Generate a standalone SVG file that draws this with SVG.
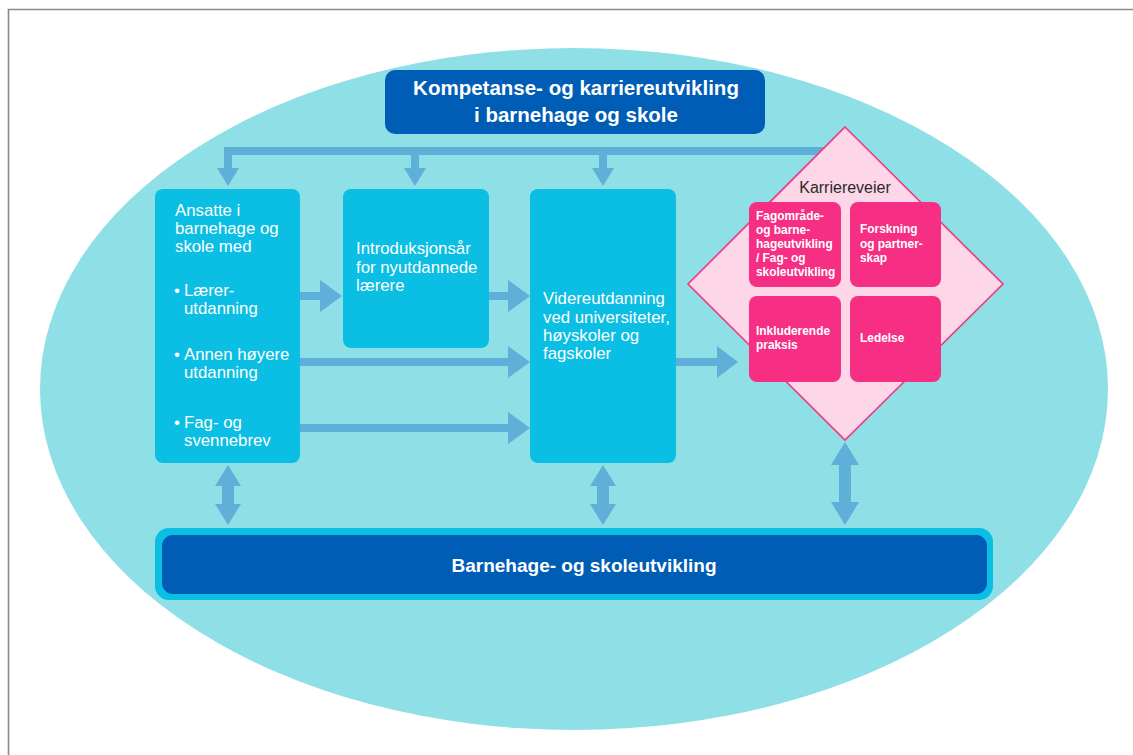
<svg xmlns="http://www.w3.org/2000/svg" width="1133" height="755" viewBox="0 0 1133 755">
<defs>
<style>
.frame{stroke:#8a8a8a;stroke-width:1.6;fill:none}
.cyan{fill:#0bbee3}
.navy{fill:#005db5}
.pink{fill:#f72f84}
.arr{fill:#5eb0d9}
.t{font-family:"Liberation Sans",Arial,sans-serif;fill:#fff;font-size:16.8px}
.tb{font-family:"Liberation Sans",Arial,sans-serif;fill:#fff;font-weight:bold}
.tp{font-family:"Liberation Sans",Arial,sans-serif;fill:#fff;font-weight:bold;font-size:11.9px}
.tk{font-family:"Liberation Sans",Arial,sans-serif;fill:#2a2a2a;font-size:16px}
</style>
</defs>
<rect width="1133" height="755" fill="#fff"/>
<path class="frame" d="M8.5 755 V9.5 H1133"/>
<ellipse id="background" cx="574" cy="389" rx="534" ry="341" fill="#8fdfe6"/>

<g id="connectors">
  <rect class="arr" x="224" y="147" width="610" height="8"/>
  <path class="arr" d="M224 147 h8 v21 h7 l-11 18 l-11 -18 h7 z"/>
  <path class="arr" d="M411 155 h8 v13 h7 l-11 18 l-11 -18 h7 z"/>
  <path class="arr" d="M599 155 h8 v13 h7 l-11 18 l-11 -18 h7 z"/>
  <path class="arr" d="M300 292 h20 v-12 l22 16 l-22 16 v-12 h-20 z"/>
  <path class="arr" d="M489 292 h19 v-12 l22 16 l-22 16 v-12 h-19 z"/>
  <path class="arr" d="M300 358 h208 v-12 l22 16 l-22 16 v-12 h-208 z"/>
  <path class="arr" d="M300 424 h208 v-12 l22 16 l-22 16 v-12 h-208 z"/>
  <path class="arr" d="M676 358 h41 v-12 l21 16 l-21 16 v-12 h-41 z"/>
  <path class="arr" d="M228 465 l13 21 h-7 v18 h7 l-13 21 l-13 -21 h7 v-18 h-7 z"/>
  <path class="arr" d="M603 465 l13 21 h-7 v18 h7 l-13 21 l-13 -21 h7 v-18 h-7 z"/>
  <path class="arr" d="M845 442 l14 23 h-8 v37 h8 l-14 23 l-14 -23 h8 v-37 h-8 z"/>
</g>

<g id="title">
  <rect class="navy" x="385" y="70" width="380" height="64" rx="10"/>
  <text class="tb" font-size="20.5" x="576" y="95" text-anchor="middle">Kompetanse- og karriereutvikling</text>
  <text class="tb" font-size="20.5" x="576" y="122" text-anchor="middle">i barnehage og skole</text>
</g>

<g id="ansatte">
  <rect class="cyan" x="155" y="189" width="145" height="274" rx="8"/>
  <text class="t"><tspan x="175" y="216">Ansatte i</tspan><tspan x="175" y="234">barnehage og</tspan><tspan x="175" y="252">skole med</tspan></text>
  <text class="t"><tspan x="174" y="296">•</tspan><tspan x="184" y="296">Lærer-</tspan><tspan x="184" y="314">utdanning</tspan></text>
  <text class="t"><tspan x="174" y="360">•</tspan><tspan x="184" y="360">Annen høyere</tspan><tspan x="184" y="378">utdanning</tspan></text>
  <text class="t"><tspan x="174" y="428">•</tspan><tspan x="184" y="428">Fag- og</tspan><tspan x="184" y="446">svennebrev</tspan></text>
</g>

<g id="introduksjonsaar">
  <rect class="cyan" x="343" y="189" width="146" height="159" rx="8"/>
  <text class="t"><tspan x="356" y="254">Introduksjonsår</tspan><tspan x="356" y="273">for nyutdannede</tspan><tspan x="356" y="291">lærere</tspan></text>
</g>

<g id="videreutdanning">
  <rect class="cyan" x="530" y="189" width="146" height="274" rx="8"/>
  <text class="t"><tspan x="543" y="304">Videreutdanning</tspan><tspan x="543" y="323">ved universiteter,</tspan><tspan x="543" y="341">høyskoler og</tspan><tspan x="543" y="359">fagskoler</tspan></text>
</g>

<g id="karriereveier">
  <path d="M845 127 L1003 284 L845 440 L688 284 Z" fill="#fdd6e7" stroke="#ee3a84" stroke-width="1.6"/>
  <text class="tk" x="845" y="193" text-anchor="middle">Karriereveier</text>
</g>

<g id="fagomraade">
  <rect class="pink" x="749" y="202" width="92" height="85" rx="8"/>
  <text class="tp"><tspan x="756" y="220">Fagområde-</tspan><tspan x="756" y="234">og barne-</tspan><tspan x="756" y="248">hageutvikling</tspan><tspan x="756" y="262">/ Fag- og</tspan><tspan x="756" y="276">skoleutvikling</tspan></text>
</g>
<g id="forskning">
  <rect class="pink" x="850" y="202" width="91" height="85" rx="8"/>
  <text class="tp"><tspan x="860" y="233">Forskning</tspan><tspan x="860" y="248">og partner-</tspan><tspan x="860" y="262">skap</tspan></text>
</g>
<g id="inkluderende">
  <rect class="pink" x="749" y="296" width="92" height="86" rx="8"/>
  <text class="tp"><tspan x="756" y="335">Inkluderende</tspan><tspan x="756" y="349">praksis</tspan></text>
</g>
<g id="ledelse">
  <rect class="pink" x="850" y="296" width="91" height="86" rx="8"/>
  <text class="tp" x="860" y="342">Ledelse</text>
</g>

<g id="skoleutvikling">
  <rect class="cyan" x="155" y="528" width="838" height="72" rx="14"/>
  <rect class="navy" x="162" y="535" width="825" height="59" rx="11"/>
  <text class="tb" font-size="19" x="584" y="572" text-anchor="middle">Barnehage- og skoleutvikling</text>
</g>
</svg>
